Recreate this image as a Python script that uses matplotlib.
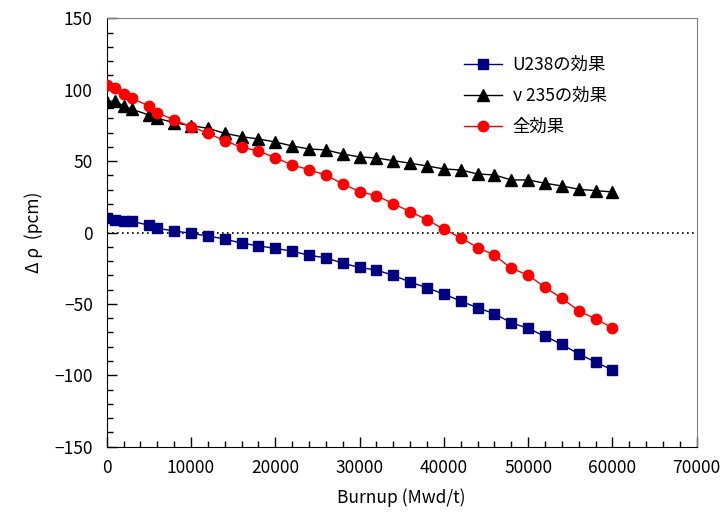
import matplotlib
matplotlib.use("Agg")
import matplotlib.pyplot as plt
from matplotlib.ticker import MultipleLocator

plt.rcParams['font.family'] = ['Noto Sans CJK JP', 'DejaVu Sans']

burnup = [0, 1000, 2000, 3000, 5000, 6000, 8000, 10000, 12000, 14000, 16000,
          18000, 20000, 22000, 24000, 26000, 28000, 30000, 32000, 34000, 36000,
          38000, 40000, 42000, 44000, 46000, 48000, 50000, 52000, 54000, 56000,
          58000, 60000]

u238 = [10, 9, 8, 8, 5, 3, 1, -0.5, -2.5, -4.5, -7.5, -9.3, -11.2, -13, -16,
        -17.7, -21.5, -24.5, -26.3, -30, -34.7, -38.7, -43.1, -48, -52.7,
        -56.9, -63.2, -67.1, -72.7, -78.3, -85.1, -90.7, -96.3]

nu235 = [91.6, 92.1, 88.6, 86.3, 82.3, 80.0, 76.9, 74.8, 73.0, 69.5, 67.1,
         65.5, 63.4, 60.6, 58.5, 57.8, 55.0, 52.9, 52.2, 50.3, 48.5, 46.6,
         44.5, 43.8, 41.0, 40.3, 36.8, 36.8, 34.5, 32.6, 30.3, 29.3, 28.4]

total = [103.3, 101.0, 97.0, 94.0, 88.6, 83.9, 78.8, 74.1, 69.5, 64.3, 59.7,
         57.1, 52.4, 47.3, 44.0, 40.1, 34.2, 28.6, 25.8, 20.2, 14.6, 9.0, 2.2,
         -3.6, -10.6, -15.8, -25.1, -29.8, -38.4, -46.1, -54.8, -60.6, -66.6]

labels = ['U238の効果', 'ν 235の効果', '全効果']

fig = plt.figure(figsize=(7.2, 5.16), dpi=100)
ax = fig.add_axes([106.7/720, 1-446.7/516, 590/720, (446.7-18.3)/516])

ax.axhline(0, color='black', linestyle=(0, (1, 2)), linewidth=1.2, zorder=1)

ax.plot(burnup, u238, color='#000080', marker='s', markersize=7,
        linewidth=1.0, label=labels[0], zorder=3)
ax.plot(burnup, nu235, color='black', marker='^', markersize=8,
        linewidth=1.0, label=labels[1], zorder=3)
ax.plot(burnup, total, color='#FF0000', marker='o', markersize=7.5,
        linewidth=1.0, label=labels[2], zorder=3)

ax.set_xlim(0, 70000)
ax.set_ylim(-150, 150)
ax.xaxis.set_major_locator(MultipleLocator(10000))
ax.xaxis.set_minor_locator(MultipleLocator(2000))
ax.yaxis.set_major_locator(MultipleLocator(50))
ax.yaxis.set_minor_locator(MultipleLocator(10))
ax.tick_params(which='both', direction='in', top=False, right=False,
               labelsize=12.5, width=1)
ax.tick_params(which='major', length=7, pad=9)
ax.tick_params(which='minor', length=4)
ax.tick_params(axis='y', which='major', pad=10)

for s in ['top', 'right']:
    ax.spines[s].set_color('#808080')
for s in ['left', 'bottom']:
    ax.spines[s].set_color('black')

ax.set_xlabel('Burnup (Mwd/t)', fontsize=12.5, labelpad=8)
ax.set_ylabel('Δ ρ  (pcm)', fontsize=12.5, labelpad=8)

ax.legend(loc='upper left', bbox_to_anchor=(464/720, 1-56/516),
          bbox_transform=fig.transFigure, frameon=False, fontsize=12.5,
          handlelength=2.2, handletextpad=0.6, labelspacing=0.75,
          borderaxespad=0, borderpad=0)

fig.savefig('out.png', dpi=100)
